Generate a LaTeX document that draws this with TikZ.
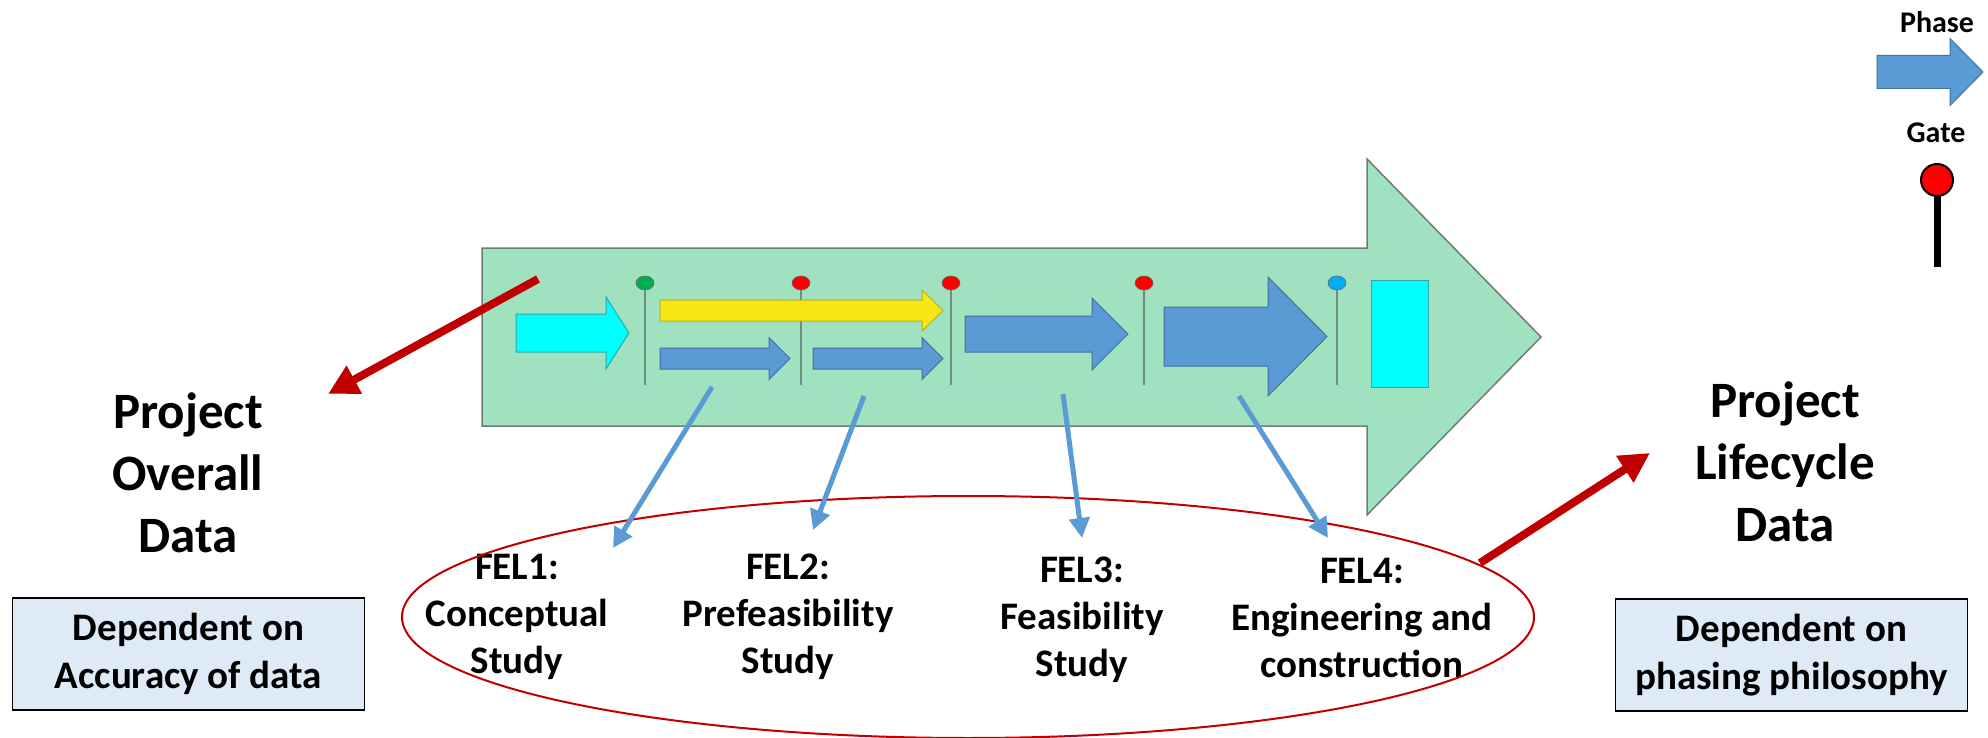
\documentclass[tikz,border=0pt]{standalone}
\usepackage{fontspec}
\setmainfont{Carlito}
\usepackage{xcolor}
\usepackage{tikz}
\usetikzlibrary{positioning, arrows.meta}
\definecolor{bodygreen}{HTML}{A0E1BF}
\definecolor{bodyedge}{HTML}{6E7D74}
\definecolor{phaseblue}{HTML}{5B9BD5}
\definecolor{phaseedge}{HTML}{41719C}
\definecolor{startcyan}{HTML}{00FFFF}
\definecolor{cyanedge}{HTML}{2FA8A8}
\definecolor{fastyellow}{HTML}{F5E614}
\definecolor{yellowedge}{HTML}{BFB020}
\definecolor{stemgray}{HTML}{6A8F7C}
\definecolor{gategreen}{HTML}{00B050}
\definecolor{gatered}{HTML}{FF0000}
\definecolor{gateblue}{HTML}{00B0F0}
\definecolor{datared}{HTML}{C00000}
\definecolor{boxblue}{HTML}{DEEAF6}
\tikzstyle{bigtext} = [align=center, inner sep=0pt, font=\fontsize{25.5}{31}\selectfont\bfseries]
\tikzstyle{feltext} = [align=center, inner sep=0pt, font=\fontsize{19.5}{23.5}\selectfont\bfseries]
\tikzstyle{keytext} = [inner sep=0pt, font=\fontsize{15}{18}\selectfont\bfseries]
\tikzstyle{notebox} = [rectangle, draw=black, fill=boxblue, line width=0.75pt, minimum width=176pt, minimum height=56pt, align=center, font=\fontsize{19.5}{24}\selectfont\bfseries]
\tikzstyle{phase} = [fill=phaseblue, draw=phaseedge, line width=0.5pt]
\tikzstyle{stem} = [draw=stemgray, line width=0.75pt]
\tikzstyle{gate} = [draw=black!60, line width=0.3pt]
\tikzstyle{bluearrow} = [draw=phaseblue, line width=2.5pt, -{Triangle[length=10pt,width=10pt]}]
\tikzstyle{redarrow} = [draw=datared, line width=4pt, -{Triangle[length=15pt,width=15pt]}]
% 块状箭头: 样式, 起点x, 箭头起点x, 尖端x, 中心y, 半宽, 箭头半宽
\newcommand{\blockarrow}[7]{%
  \draw[#1] (#2,#5-#6) -- (#3,#5-#6) -- (#3,#5-#7) -- (#4,#5) -- (#3,#5+#7) -- (#3,#5+#6) -- (#2,#5+#6) -- cycle;}

\begin{document}
\begin{tikzpicture}[x=0.5pt, y=-0.5pt]
		\useasboundingbox (0,0) rectangle (1988,738);
		%项目生命周期大箭头
		\blockarrow{fill=bodygreen, draw=bodyedge, line width=0.75pt}{482}{1367}{1541}{337}{89}{178}
		
		%阶段门
		\draw [stem] (645,290) -- (645,385);
		\draw [stem] (801,290) -- (801,385);
		\draw [stem] (951,290) -- (951,385);
		\draw [stem] (1144,290) -- (1144,385);
		\draw [stem] (1337,290) -- (1337,385);
		\draw [gate, fill=gategreen] (645,283) ellipse [x radius=9, y radius=7];
		\draw [gate, fill=gatered] (801,283) ellipse [x radius=9, y radius=7];
		\draw [gate, fill=gatered] (951,283) ellipse [x radius=9, y radius=7];
		\draw [gate, fill=gatered] (1144,283) ellipse [x radius=9, y radius=7];
		\draw [gate, fill=gateblue] (1337,283) ellipse [x radius=9, y radius=7];
		
		%各阶段
		\blockarrow{fill=startcyan, draw=cyanedge, line width=0.5pt}{516}{606}{629}{333}{19}{36}
		\blockarrow{fill=fastyellow, draw=yellowedge, line width=0.5pt}{660}{922}{943}{310.5}{10.5}{20.5}
		\blockarrow{phase}{660}{769}{790}{358.5}{10.5}{21}
		\blockarrow{phase}{813}{922}{943}{358.5}{10.5}{21}
		\blockarrow{phase}{965}{1092}{1128}{334}{18}{36}
		\blockarrow{phase}{1164}{1268}{1327}{336.5}{29.5}{59.5}
		\draw [fill=startcyan, draw=cyanedge, line width=0.5pt] (1371,280) rectangle (1428,387);
		
		%文字
		\node (overall) [bigtext] at (188,473) {Project\\Overall\\Data};
		\node (lifecycle) [bigtext] at (1785,462) {Project\\Lifecycle\\Data};
		\node (accuracy) [notebox] at (188.5,654) {Dependent on\\Accuracy of data};
		\node (phasing) [notebox] at (1791.5,655) {Dependent on\\phasing philosophy};
		\node (fel1) [feltext] at (517,617) {FEL1:\\Conceptual\\Study};
		\node (fel2) [feltext] at (788,617) {FEL2:\\Prefeasibility\\Study};
		\node (fel3) [feltext] at (1082,620) {FEL3:\\Feasibility\\Study};
		\node (fel4) [feltext] at (1362,618) {FEL4:\\Engineering and\\construction};
		\draw [datared, line width=1pt] (968,617) ellipse [x radius=566, y radius=121];
		
		%图例
		\node (phasekey) [keytext] at (1937,22) {Phase};
		\blockarrow{phase}{1877}{1950}{1983}{72}{16.5}{33.5}
		\node (gatekey) [keytext] at (1936,133) {Gate};
		\draw [black, line width=3.5pt] (1937,196) -- (1937,267);
		\draw [fill=gatered, draw=black, line width=1pt] (1937,180) circle [radius=16];
		
		%连接
		\coordinate (p1) at (712,387);
		\coordinate (p2) at (864,396);
		\coordinate (p3) at (1063,394);
		\coordinate (p4) at (1239,396);
		\coordinate (t1) at (613,548);
		\coordinate (t2) at (813,530);
		\coordinate (t3) at (1082,538);
		\coordinate (t4) at (1328,538);
		\draw [bluearrow] (p1) -- (t1);
		\draw [bluearrow] (p2) -- (t2);
		\draw [bluearrow] (p3) -- (t3);
		\draw [bluearrow] (p4) -- (t4);
		\coordinate (lstart) at (538,279);
		\coordinate (lend) at (328,394);
		\coordinate (rstart) at (1480,563);
		\coordinate (rend) at (1650,453);
		\draw [redarrow] (lstart) -- (lend);
		\draw [redarrow] (rstart) -- (rend);
		
	\end{tikzpicture}
\end{document}
